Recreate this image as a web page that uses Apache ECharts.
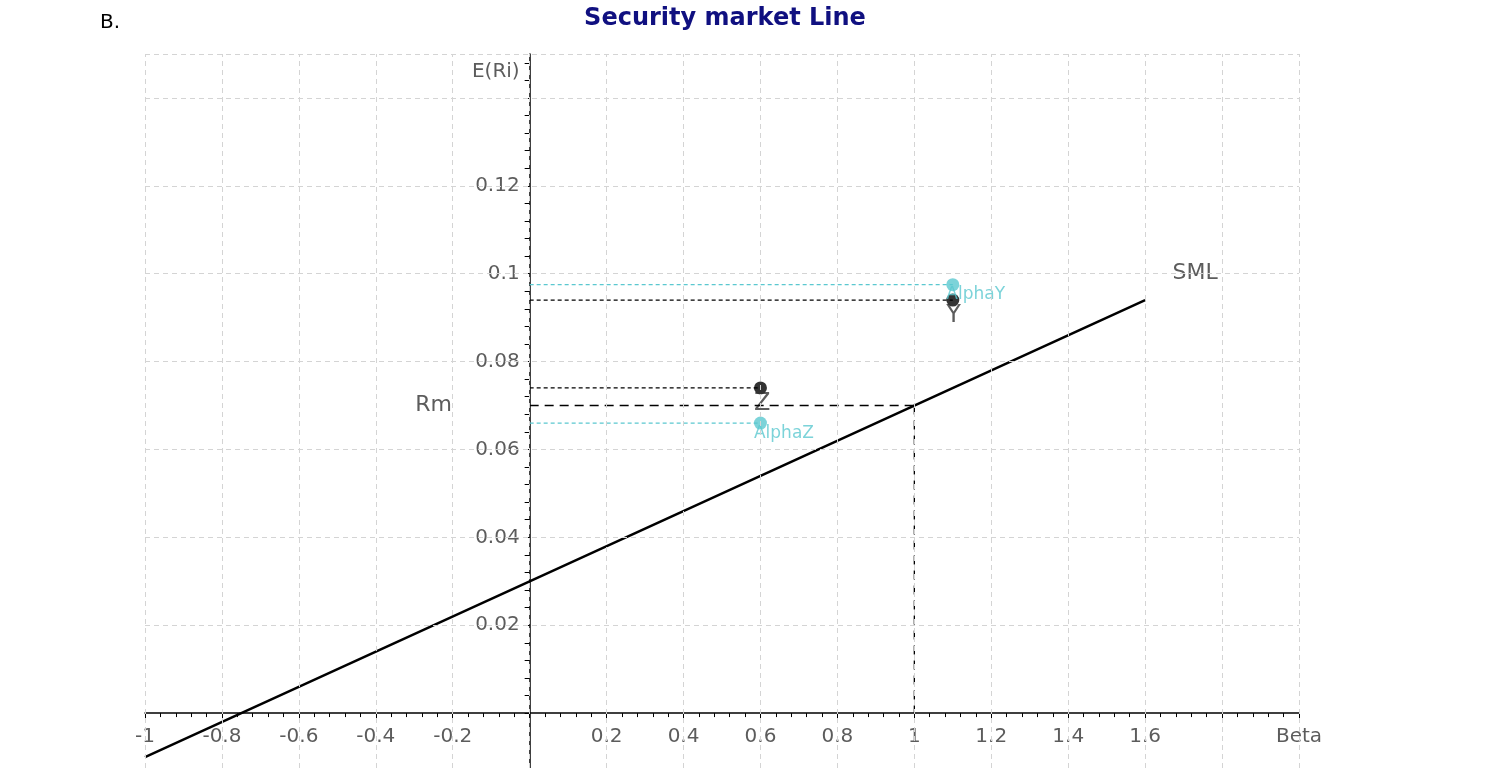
<!DOCTYPE html>
<html>
<head>
<meta charset="utf-8">
<script src="https://cdn.jsdelivr.net/npm/echarts@6/dist/echarts.min.js"></script>
<style>html,body{margin:0;padding:0;background:#fff}#main{width:1500px;height:768px}</style>
</head>
<body>
<div id="main"></div>
<script>
// SML: E(Ri) = rf + beta * (Rm - rf)
var smlBeta = [-1, 1.6];
var smlRet = [-0.01, 0.094];
var rf = 0.03;
var rm = 0.07;
var pointNames = ['Y', 'Z'];
var pointBeta = [1.1, 0.6];
var pointRet = [0.094, 0.074];
var alphaNames = ['AlphaY', 'AlphaZ'];
var alphaRet = [0.0975, 0.066];
var xGrid = [-1, -0.8, -0.6, -0.4, -0.2, 0, 0.2, 0.4, 0.6, 0.8, 1, 1.2, 1.4, 1.6, 1.8, 2];
var yGrid = [0.02, 0.04, 0.06, 0.08, 0.1, 0.12, 0.14, 0.15];
var xLabels = [-1, -0.8, -0.6, -0.4, -0.2, 0.2, 0.4, 0.6, 0.8, 1, 1.2, 1.4, 1.6];
var yLabels = [0.02, 0.04, 0.06, 0.08, 0.1, 0.12];

var yTicks = [];
for (var t = 0; t <= 150; t += 4) { yTicks.push(t / 1000); }

var gridLines = [];
xGrid.forEach(function(v){ gridLines.push({xAxis: v}); });
yGrid.forEach(function(v){ gridLines.push({yAxis: v}); });

function dashSeg(a, b, color, dash){
	return {
		type: 'line', data: [a, b], symbol: 'none', silent: true,
		lineStyle: {color: color, width: 1.3, type: dash || [4, 3]}
	};
}
var txt = {color: '#333', fontSize: 20, fontFamily: 'DejaVu Sans'};

var series = [{
	type: 'line', data: smlBeta.map(function(b, i){ return [b, smlRet[i]]; }),
	symbol: 'none', lineStyle: {color: '#000', width: 2.5}, z: 3,
	markLine: {
		silent: true, symbol: 'none', label: {show: false},
		lineStyle: {color: '#d4d4d4', type: [5, 4], width: 1},
		data: gridLines
	}
}];
series.push(dashSeg([0, rm], [1, rm], '#000', [9, 6]));
series.push(dashSeg([1, rm], [1, 0], '#000', [9, 6]));
pointBeta.forEach(function(b, i){
	series.push(dashSeg([0, pointRet[i]], [b, pointRet[i]], '#000'));
	series.push(dashSeg([0, alphaRet[i]], [b, alphaRet[i]], '#5bc8d0'));
});
series.push({
	type: 'scatter', symbolSize: 13, itemStyle: {color: '#5bc8d0'},
	data: pointBeta.map(function(b, i){ return {value: [b, alphaRet[i]], name: alphaNames[i]}; }),
	label: {show: true, formatter: '{b}', position: [0, 8], color: '#5bc8d0', fontSize: 17, fontFamily: 'DejaVu Sans'}
});
series.push({
	type: 'scatter', symbolSize: 13, itemStyle: {color: '#000'},
	data: pointBeta.map(function(b, i){ return {value: [b, pointRet[i]], name: pointNames[i]}; }),
	label: {show: true, formatter: '{b}', position: [0, 10], color: '#333', fontSize: 24, fontFamily: 'DejaVu Sans'}
});
// axis tick labels drawn at the crossing axes
series.push({
	type: 'scatter', symbolSize: 0, silent: true,
	data: xLabels.map(function(v){ return {value: [v, 0], name: String(v)}; })
		.concat([{value: [2, 0], name: 'Beta'}]),
	label: Object.assign({show: true, formatter: '{b}', position: 'bottom', distance: 14}, txt)
});
series.push({
	type: 'scatter', symbolSize: 0, silent: true,
	data: yLabels.map(function(v){ return {value: [0, v], name: String(v)}; })
		.concat([{value: [0, 0.146], name: 'E(Ri)'}]),
	label: Object.assign({show: true, formatter: '{b}', position: 'left', distance: 10}, txt)
});
series.push({
	type: 'scatter', symbolSize: 0, silent: true,
	data: [{value: [1.73, 0.1], name: 'SML'}, {value: [-0.25, 0.07], name: 'Rm'}],
	label: {show: true, formatter: '{b}', position: 'inside', color: '#333', fontSize: 22, fontFamily: 'DejaVu Sans'}
});

var chart = echarts.init(document.getElementById('main'));
chart.setOption({
	animation: false,
	title: [{
		text: 'Security market Line', left: 720, textAlign: 'center', top: 2,
		textStyle: {color: '#101080', fontSize: 24, fontWeight: 'bold', fontFamily: 'DejaVu Sans'}
	}, {
		text: 'B.', left: 95, top: 8,
		textStyle: {color: '#000', fontSize: 20, fontWeight: 'normal', fontFamily: 'DejaVu Sans'}
	}],
	grid: {left: 145, right: 201, top: 54, bottom: 0, containLabel: false, outerBoundsMode: 'none'},
	xAxis: {
		type: 'value', min: -1, max: 2, interval: 0.2,
		splitLine: {show: false},
		axisLine: {onZero: true, lineStyle: {color: '#000', width: 1.5}},
		axisTick: {show: true, length: 6, lineStyle: {color: '#000'}},
		minorTick: {show: true, splitNumber: 5, length: 4, lineStyle: {color: '#000'}},
		axisLabel: {show: false}
	},
	yAxis: {
		type: 'value', min: -0.0125, max: 0.15,
		splitLine: {show: false},
		axisLine: {onZero: true, lineStyle: {color: '#000', width: 1.5}},
		axisTick: {show: true, length: 5, customValues: yTicks, lineStyle: {color: '#000'}},
		axisLabel: {show: false}
	},
	series: series
});
</script>
</body>
</html>
